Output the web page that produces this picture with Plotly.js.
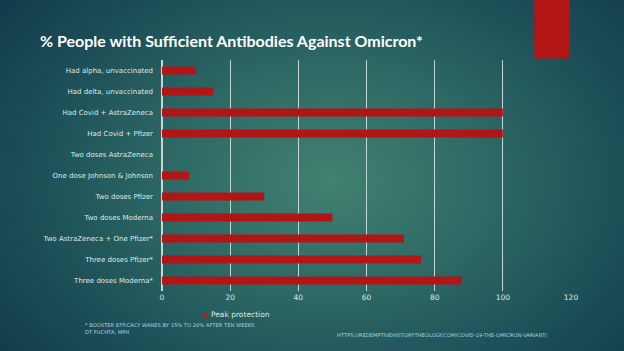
<!DOCTYPE html>
<html>
<head>
<meta charset="utf-8">
<script src="https://cdn.plot.ly/plotly-3.0.1.min.js"></script>
<style>
html,body{margin:0;padding:0;}
body{width:624px;height:351px;overflow:hidden;
background: radial-gradient(ellipse 420px 300px at 330px 180px, #41816f 0%, #2f6b66 35%, #1d5058 70%, #123a4a 100%);}
#chart{width:624px;height:351px;}
</style>
</head>
<body>
<div id="chart"></div>
<script>
const categories = [
  "Had alpha, unvaccinated",
  "Had delta, unvaccinated",
  "Had Covid + AstraZeneca",
  "Had Covid + Pfizer",
  "Two doses AstraZeneca",
  "One dose Johnson & Johnson",
  "Two doses Pfizer",
  "Two doses Moderna",
  "Two AstraZeneca + One Pfizer*",
  "Three doses Pfizer*",
  "Three doses Moderna*"
];
const peakProtection = [10, 15, 100, 100, 0, 8, 30, 50, 71, 76, 88];
const xTicks = [0, 20, 40, 60, 80, 100, 120];
const seriesName = "Peak protection";
const titleText = "% People with Sufficient Antibodies Against Omicron*";
const footnote1 = "* BOOSTER EFFICACY WANES BY 15% TO 20% AFTER TEN WEEKS";
const footnote2 = "DT FUCHTA, MPH";
const sourceUrl = "HTTPS://REDEMPTIVEHISTORYTHEOLOGY.COM/COVID-19-THE-OMICRON-VARIANT/";

const labelColor = "#dfe9e8";
const barColor = "#b21516";
const font = "'DejaVu Sans', sans-serif";

const trace = {
  type: "bar",
  orientation: "h",
  y: categories,
  x: peakProtection,
  name: seriesName,
  marker: {color: barColor},
  showlegend: false,
  hoverinfo: "x+y"
};

const plotL = 161.5, plotW = 409.2, plotB = 291.5, plotH = 232;
const px = v => (v - plotL) / plotW;
const py = v => (plotB - v) / plotH;

const layout = {
  width: 624, height: 351,
  margin: {l: 161.5, r: 53.3, t: 59.5, b: 59.5},
  paper_bgcolor: "rgba(0,0,0,0)",
  plot_bgcolor: "rgba(0,0,0,0)",
  bargap: 0.62,
  font: {family: font, color: labelColor, size: 7},
  title: {
    text: titleText,
    font: {family: "Lato, sans-serif", size: 16, color: "#ffffff", weight: "bold"},
    x: 40/624, xanchor: "left", y: 1 - 41/351, yanchor: "middle"
  },
  xaxis: {
    range: [0, 120],
    tickvals: xTicks,
    ticktext: xTicks.map(String),
    showgrid: true, gridcolor: "#c5d6d6", gridwidth: 1.3,
    zeroline: true, zerolinecolor: "#c5d6d6", zerolinewidth: 1.3,
    showline: false, ticks: "",
    tickfont: {family: font, size: 7.5, color: labelColor},
    fixedrange: true
  },
  yaxis: {
    autorange: "reversed",
    showgrid: false, zeroline: false, showline: false, ticks: "",
    ticklabelstandoff: 8,
    tickfont: {family: font, size: 7, color: labelColor},
    fixedrange: true
  },
  shapes: [
    {type: "rect", xref: "paper", yref: "paper",
     x0: px(534), x1: px(569.3), y0: py(58), y1: py(-4),
     fillcolor: "#b21516", line: {width: 0}, layer: "above"},
    {type: "rect", xref: "paper", yref: "paper",
     x0: px(202.5), x1: px(206.5), y0: py(318), y1: py(314),
     fillcolor: "#c8161a", line: {width: 0}, layer: "above"}
  ],
  annotations: [
    {xref: "paper", yref: "paper", x: px(208.5), y: py(315.5),
     xanchor: "left", yanchor: "middle", showarrow: false,
     text: seriesName,
     font: {family: font, size: 7.5, color: labelColor}},
    {xref: "paper", yref: "paper", x: px(82), y: py(329),
     xanchor: "left", yanchor: "middle", showarrow: false,
     text: footnote1 + "<br>" + footnote2,
     align: "left",
     font: {family: font, size: 5.2, color: "#a9d3e6"}},
    {xref: "paper", yref: "paper", x: px(335), y: py(335.5),
     xanchor: "left", yanchor: "middle", showarrow: false,
     text: sourceUrl,
     font: {family: font, size: 5.2, color: "#a9d3e6"}}
  ]
};

Plotly.newPlot("chart", [trace], layout, {displayModeBar: false, staticPlot: true});
</script>
</body>
</html>
